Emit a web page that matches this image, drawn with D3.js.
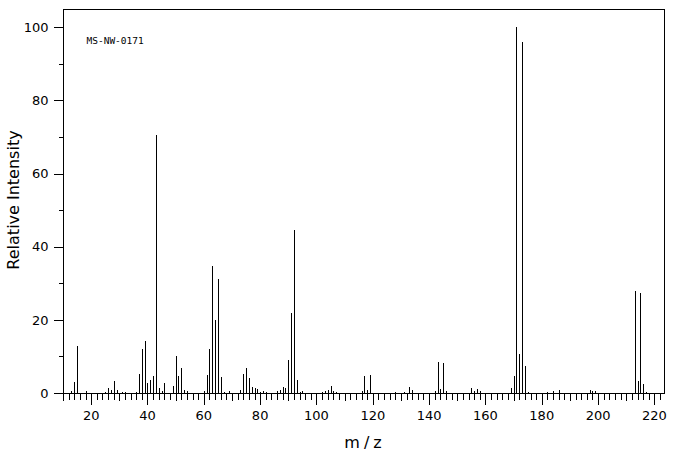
<!DOCTYPE html>
<html><head><meta charset="utf-8">
<script src="https://cdn.jsdelivr.net/npm/d3@7"></script>
<style>body{margin:0;background:#fff}</style>
</head><body><svg id="c" width="676" height="455"></svg>
<script>
const mzValues = [13,14,15,18,25,26,27,28,29,31,32,36,37,38,39,40,41,42,43,44,45,46,49,50,51,52,53,54,60,61,62,63,64,65,66,67,69,73,74,75,76,77,78,79,80,81,82,86,87,88,89,90,91,92,93,94,95,102,103,104,105,106,107,116,117,118,119,128,131,133,134,142,143,144,145,146,155,156,157,158,169,170,171,172,173,174,175,182,184,186,197,198,199,213,214,215,216,217];
const intensities = [0.6,2.9,12.9,0.6,0.4,1.4,0.9,3.4,0.9,0.4,0.3,0.3,5.3,12.1,14.3,2.8,3.6,4.7,70.6,1.4,0.6,2.8,1.8,10.0,4.7,6.7,0.9,0.5,0.6,5.0,12.1,34.8,20.0,31.3,4.5,0.4,0.6,0.9,5.3,6.7,4.2,1.7,1.5,1.2,0.4,0.6,0.4,0.6,0.9,1.7,1.5,9.1,22.0,44.6,3.6,0.4,0.6,0.4,0.5,0.9,1.8,0.6,0.4,0.6,4.7,0.9,5.0,0.4,0.4,1.6,0.9,0.5,8.6,1.2,8.3,0.6,1.5,0.6,1.2,0.5,1.5,4.7,100,10.8,95.9,7.5,0.4,0.4,0.6,0.9,0.9,0.5,0.6,28.0,3.4,27.4,2.5,0.4];
const xTickLabels = [20,40,60,80,100,120,140,160,180,200,220];
const yTickLabels = [0,20,40,60,80,100];
const sampleId = "MS-NW-0171";
const xTitle = "m/z";
const yTitle = "Relative Intensity";

const svg = d3.select("#c");
const L = 63, R = 664, T = 9, B = 393;
const x = d3.scaleLinear().domain([10, 223.4]).range([L, R]);
const y = d3.scaleLinear().domain([0, 105]).range([B, T]);
const px = v => Math.round(v) + 0.5;

const g = svg.append("g").attr("shape-rendering", "crispEdges").attr("stroke", "#000").attr("stroke-width", 1);

// bars
g.selectAll("line.bar").data(mzValues.map((m, i) => ({m, v: intensities[i]})))
  .join("line").attr("class", "bar")
  .attr("x1", d => px(x(d.m))).attr("x2", d => px(x(d.m)))
  .attr("y1", px(y(0))).attr("y2", d => Math.round(y(d.v)));

// frame
g.append("rect").attr("x", px(L)).attr("y", px(T)).attr("width", Math.round(R - L)).attr("height", Math.round(B - T)).attr("fill", "none");

// x ticks
const xt = d3.range(10, 223, 2);
g.selectAll("line.xt").data(xt).join("line").attr("class", "xt")
  .attr("x1", d => px(x(d))).attr("x2", d => px(x(d)))
  .attr("y1", px(B)).attr("y2", d => px(B) + (d % 20 === 0 ? 11 : d % 10 === 0 ? 7 : 6));

// y ticks
const yt = d3.range(0, 101, 10);
g.selectAll("line.yt").data(yt).join("line").attr("class", "yt")
  .attr("y1", d => px(y(d))).attr("y2", d => px(y(d)))
  .attr("x1", px(L)).attr("x2", d => px(L) - (d % 20 === 0 ? 10 : 5));

const font = "'DejaVu Sans', sans-serif";
svg.append("g").selectAll("text").data(xTickLabels).join("text")
  .attr("x", d => x(d)).attr("y", 419.5).attr("text-anchor", "middle")
  .attr("font-family", font).attr("font-size", 13).text(d => d);

svg.append("g").selectAll("text").data(yTickLabels).join("text")
  .attr("x", 48.5).attr("y", d => y(d) + 4.7).attr("text-anchor", "end")
  .attr("font-family", font).attr("font-size", 13).text(d => d);

svg.append("text").attr("x", 365).attr("y", 448).attr("text-anchor", "middle")
  .attr("font-family", font).attr("font-size", 16).attr("letter-spacing", 4).text(xTitle);

svg.append("text").attr("transform", "translate(18.5,200) rotate(-90)").attr("text-anchor", "middle")
  .attr("font-family", font).attr("font-size", 16).text(yTitle);

svg.append("text").attr("x", 86.5).attr("y", 44.3)
  .attr("font-family", "'DejaVu Sans Mono', monospace").attr("font-size", 9.5).text(sampleId);
</script>
</body></html>
